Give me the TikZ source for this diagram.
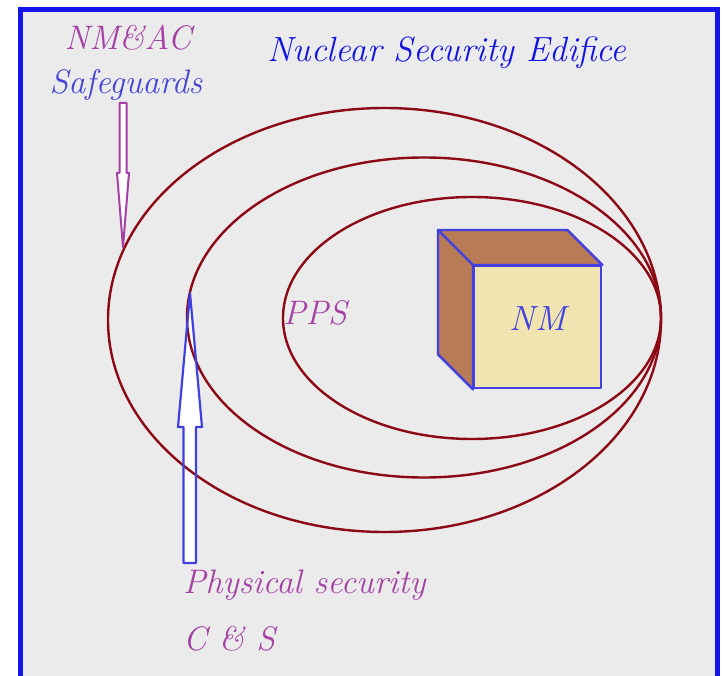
\documentclass[tikz,border=0pt]{standalone}
\usepackage{tikz}
\usetikzlibrary{shapes, arrows.meta, positioning, calc}
\definecolor{frameblue}{RGB}{20,20,235}
\definecolor{bggray}{RGB}{235,235,235}
\definecolor{ringred}{RGB}{140,10,22}
\definecolor{plum}{RGB}{165,65,165}
\definecolor{safeblue}{RGB}{70,70,210}
\definecolor{titleblue}{RGB}{20,20,225}
\definecolor{edgeblue}{RGB}{65,65,225}
\definecolor{cubebrown}{RGB}{185,122,86}
\definecolor{cubecream}{RGB}{240,228,176}
\tikzstyle{plumtxt} = [text=plum, inner sep=0pt, font=\fontsize{34}{40}\selectfont\itshape]
\tikzstyle{safetxt} = [text=safeblue, inner sep=0pt, font=\fontsize{34}{40}\selectfont\itshape]
\tikzstyle{titletxt} = [text=titleblue, inner sep=0pt, font=\fontsize{35}{40}\selectfont\itshape]
\tikzstyle{ring} = [draw=ringred, line width=2.4pt]
\tikzstyle{face} = [draw=edgeblue, line width=2.4pt, line join=round]
\tikzstyle{front} = [face, rectangle, fill=cubecream, inner sep=0pt, minimum width=127pt, minimum height=122pt, text depth=18pt, text=edgeblue, font=\fontsize{35}{40}\selectfont\itshape]

\begin{document}
\begin{tikzpicture}[x=1pt, y=-1pt]
\useasboundingbox (0,0) rectangle (723,676);
\clip (0,0) rectangle (723,676);
% frame
\draw [draw=frameblue, line width=4.5pt, fill=bggray] (20.5,9.5) rectangle (717.5,720);

% texts
\node (title) [titletxt, anchor=base] at (447,62) {Nuclear Security Edifice};
\node (nmac) [plumtxt, anchor=base] at (128,50) {NM\&AC};
\node (safe) [safetxt, anchor=base] at (126,94) {Safeguards};
\node (pps) [plumtxt, anchor=base] at (315,325) {PPS};
\node (phys) [plumtxt, anchor=base west] at (183,593) {Physical security};
\node (cs) [plumtxt, anchor=base west] at (183,650) {C \& S};

% arrow bodies
\fill [white] (119.5,103) -- (126.5,103) -- (126.5,173) -- (129,173) -- (123,247) -- (117,173) -- (119.5,173) -- cycle;
\fill [white] (183.5,563) -- (196,563) -- (196,427) -- (202,427) -- (190,293) -- (178,427) -- (183.5,427) -- cycle;

% the three rings
\draw [ring] (384.5,320) ellipse [x radius=276.5, y radius=212];
\draw [ring] (424,317.5) ellipse [x radius=237, y radius=160];
\draw [ring] (472,318) ellipse [x radius=189, y radius=121];

% arrow outlines
\draw [draw=plum, line width=2pt, line join=round] (119.5,103) -- (126.5,103) -- (126.5,173) -- (129,173) -- (123,247) -- (117,173) -- (119.5,173) -- cycle;
\draw [draw=edgeblue, line width=2.2pt, line join=round] (183.5,563) -- (196,563) -- (196,427) -- (202,427) -- (190,293) -- (178,427) -- (183.5,427) -- cycle;

% cube
\node (nm) [front, anchor=north west] at (473,265) {NM};
\filldraw [face, fill=cubebrown] (nm.north west) -- ($(nm.north west)+(-35,-35)$) -- ($(nm.north east)+(-35,-35)$) -- (nm.north east) -- cycle;
\filldraw [face, fill=cubebrown] (nm.north west) -- ($(nm.north west)+(-35,-35)$) -- ($(nm.south west)+(-35,-35)$) -- (nm.south west) -- cycle;
\end{tikzpicture}
\end{document}
